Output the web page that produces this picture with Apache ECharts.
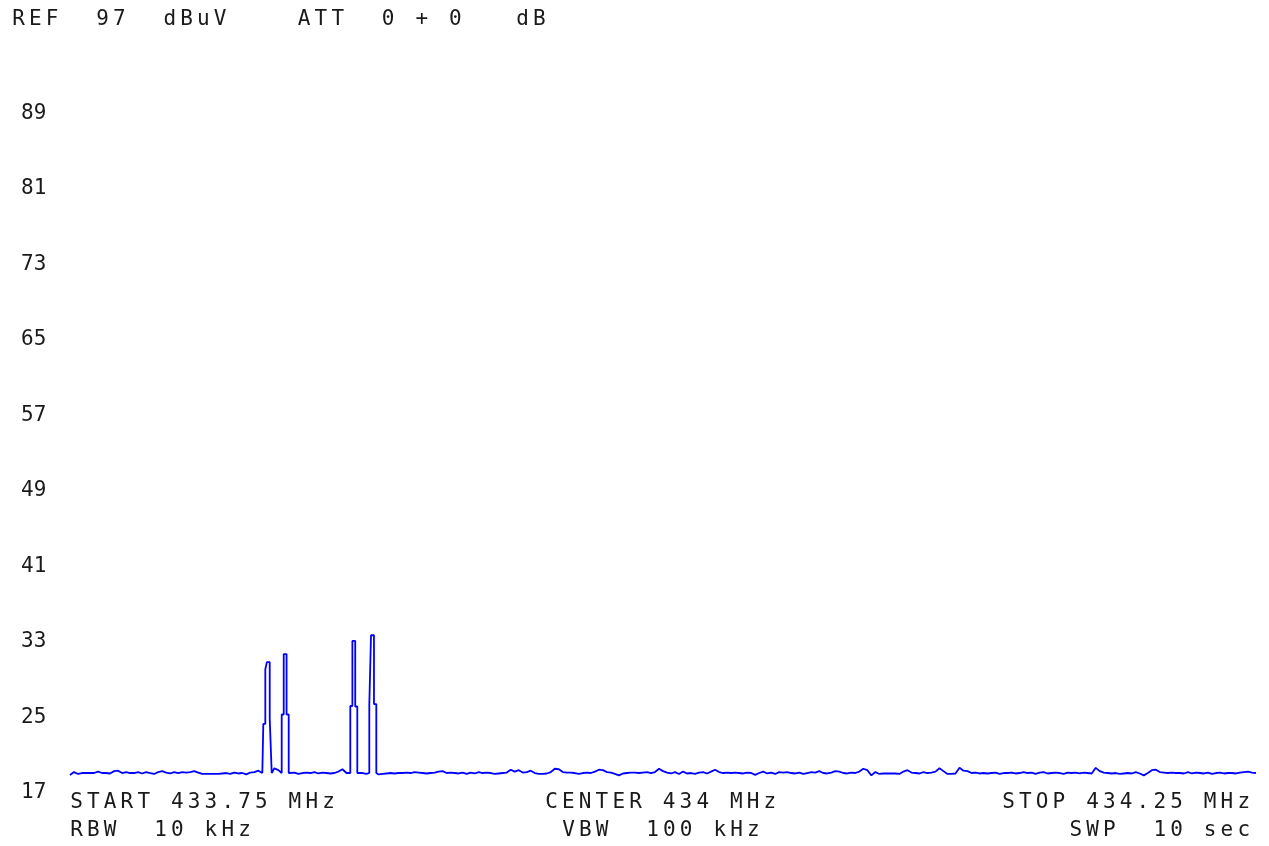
<!DOCTYPE html>
<html>
<head>
<meta charset="utf-8">
<script src="https://cdn.jsdelivr.net/npm/echarts@6/dist/echarts.min.js"></script>
<style>
  html, body { margin: 0; padding: 0; background: #ffffff; }
  #chart { width: 1269px; height: 846px; }
</style>
</head>
<body>
<div id="chart"></div>
<script>
// ---------------- DATA ----------------
const START_MHZ = 433.75;
const STOP_MHZ = 434.25;
const REF_DBUV = 97;
const BOTTOM_DBUV = 17;
const DIV_DB = 8;

// noise floor trace, evenly spaced sweep points from START to STOP (dBuV)
const noiseLevels = [
  18.6, 18.9, 18.7, 18.8, 18.8, 18.8, 18.8, 18.95, 18.8, 18.8,
  18.75, 19.0, 19.05, 18.8, 18.9, 18.8, 18.8, 18.9, 18.75, 18.9,
  18.8, 18.7, 18.9, 19.0, 18.85, 18.75, 18.9, 18.8, 18.9, 18.85,
  18.9, 19.0, 18.85, 18.7, 18.7, 18.7, 18.7, 18.7, 18.75, 18.8,
  18.7, 18.85, 18.75, 18.8, 18.65, 18.85, 18.9, 19.05, 18.8, 18.8,
  18.8, 19.3, 19.1, 18.8, 18.8, 18.8, 18.85, 18.7, 18.8, 18.85,
  18.8, 18.9, 18.75, 18.85, 18.8, 18.75, 18.8, 18.95, 19.2, 18.8,
  18.8, 18.8, 18.75, 18.8, 18.7, 18.8, 18.8, 18.65, 18.7, 18.75,
  18.8, 18.75, 18.8, 18.8, 18.85, 18.8, 18.9, 18.85, 18.8, 18.75,
  18.8, 18.85, 18.95, 19.0, 18.8, 18.85, 18.8, 18.75, 18.85, 18.7,
  18.85, 18.75, 18.9, 18.8, 18.85, 18.8, 18.7, 18.75, 18.8, 18.85,
  19.15, 18.95, 19.1, 18.85, 18.9, 19.05, 18.8, 18.7, 18.7, 18.75,
  18.9, 19.25, 19.2, 18.9, 18.85, 18.85, 18.8, 18.7, 18.8, 18.85,
  18.8, 18.95, 19.15, 19.1, 18.9, 18.85, 18.7, 18.55, 18.75, 18.8,
  18.85, 18.85, 18.8, 18.85, 18.9, 18.8, 18.9, 19.25, 19.0, 18.85,
  18.75, 18.9, 18.7, 18.95, 18.75, 18.8, 18.7, 18.85, 18.9, 18.75,
  18.95, 19.15, 18.9, 18.8, 18.85, 18.8, 18.85, 18.8, 18.75, 18.85,
  18.8, 18.6, 18.8, 18.95, 18.75, 18.85, 18.7, 18.9, 18.85, 18.9,
  18.8, 18.75, 18.85, 18.7, 18.8, 18.9, 18.85, 19.0, 18.8, 18.75,
  18.85, 19.0, 18.95, 18.8, 18.75, 18.85, 18.8, 18.95, 19.25, 19.1,
  18.55, 18.9, 18.7, 18.75, 18.75, 18.75, 18.75, 18.7, 18.95, 19.1,
  18.85, 18.8, 18.75, 18.9, 18.8, 18.85, 18.95, 19.3, 19.0, 18.7,
  18.7, 18.75, 19.35, 19.05, 19.0, 18.8, 18.85, 18.75, 18.8, 18.75,
  18.8, 18.85, 18.7, 18.8, 18.8, 18.85, 18.75, 18.8, 18.9, 18.8,
  18.85, 18.7, 18.85, 18.9, 18.75, 18.8, 18.85, 18.8, 18.7, 18.85,
  18.8, 18.85, 18.75, 18.85, 18.8, 18.75, 19.35, 19.0, 18.85, 18.8,
  18.75, 18.8, 18.7, 18.75, 18.8, 18.75, 18.9, 18.75, 18.55, 18.8,
  19.1, 19.15, 18.9, 18.85, 18.8, 18.85, 18.8, 18.8, 18.75, 18.9,
  18.75, 18.85, 18.8, 18.75, 18.85, 18.7, 18.8, 18.85, 18.75, 18.8,
  18.8, 18.75, 18.85, 18.9, 18.95, 18.85, 18.8
];

// four carrier spikes: frequency (MHz) and level (dBuV) of their outline
const peakAFreq  = [433.83149, 433.83149, 433.83234, 433.83234, 433.83300, 433.83300, 433.83420, 433.83420, 433.83503, 433.83503];
const peakALevel = [18.8, 24.0, 24.0, 29.8, 29.8, 30.55, 30.55, 24.6, 24.6, 18.8];
const peakBFreq  = [433.83925, 433.83925, 433.84010, 433.84010, 433.84130, 433.84130, 433.84220, 433.84220];
const peakBLevel = [18.8, 25.0, 25.0, 31.4, 31.4, 25.0, 25.0, 18.8];
const peakCFreq  = [433.86817, 433.86817, 433.86905, 433.86905, 433.87025, 433.87025, 433.87112, 433.87112];
const peakCLevel = [18.8, 25.9, 25.9, 32.8, 32.8, 25.85, 25.85, 18.8];
const peakDFreq  = [433.87618, 433.87618, 433.87690, 433.87690, 433.87815, 433.87815, 433.87913, 433.87913];
const peakDLevel = [18.8, 25.97, 25.97, 33.4, 33.4, 26.1, 26.1, 18.8];

// annotation texts
const headerText = 'REF  97  dBuV    ATT  0 + 0   dB';
const startText  = 'START 433.75 MHz';
const rbwText    = 'RBW  10 kHz';
const centerText = 'CENTER 434 MHz';
const vbwText    = 'VBW  100 kHz';
const stopText   = 'STOP 434.25 MHz';
const swpText    = 'SWP  10 sec';

// ---------------- BUILD TRACE ----------------
const peaks = [[peakAFreq, peakALevel], [peakBFreq, peakBLevel], [peakCFreq, peakCLevel], [peakDFreq, peakDLevel]];
const step = (STOP_MHZ - START_MHZ) / (noiseLevels.length - 1);
const trace = [];
let p = 0;
noiseLevels.forEach((v, i) => {
  const f = START_MHZ + i * step;
  while (p < peaks.length && f >= peaks[p][0][0]) {
    peaks[p][0].forEach((pf, j) => trace.push([pf, peaks[p][1][j]]));
    p++;
  }
  const inside = peaks.some(([fr]) => f >= fr[0] && f <= fr[fr.length - 1]);
  if (!inside) trace.push([f, v]);
});

// ---------------- TEXT LAYOUT ----------------
const FONT = '"DejaVu Sans Mono", "Liberation Mono", monospace';
const PITCH = 16.8;
const TEXT_COLOR = '#1a1a1a';
const graphics = [];
function monoText(str, x0, yc) {
  for (let i = 0; i < str.length; i++) {
    const ch = str[i];
    if (ch === ' ') continue;
    graphics.push({
      type: 'text',
      x: x0 + i * PITCH + 6.5,
      y: yc,
      silent: true,
      style: {
        text: ch,
        fill: TEXT_COLOR,
        font: '21px ' + FONT,
        align: 'center',
        verticalAlign: 'middle',
        textAlign: 'center',
        textVerticalAlign: 'middle'
      }
    });
  }
}
monoText(headerText, 12, 20);
monoText(startText, 70, 803);
monoText(rbwText, 70, 831);
monoText(centerText, 545, 803);
monoText(vbwText, 562, 831);
monoText(stopText, 1002, 803);
monoText(swpText, 1002 + (stopText.length - swpText.length) * PITCH, 831);

// ---------------- CHART ----------------
const chart = echarts.init(document.getElementById('chart'), null, { renderer: 'canvas' });
chart.setOption({
  backgroundColor: '#ffffff',
  animation: false,
  grid: { left: 70, right: 13, top: 35, bottom: 56 },
  xAxis: {
    type: 'value',
    min: START_MHZ,
    max: STOP_MHZ,
    show: false
  },
  yAxis: {
    type: 'value',
    min: BOTTOM_DBUV,
    max: REF_DBUV,
    interval: DIV_DB,
    axisLine: { show: false },
    axisTick: { show: false },
    splitLine: { show: false },
    axisLabel: {
      show: true,
      showMinLabel: true,
      showMaxLabel: true,
      align: 'left',
      margin: 49,
      fontFamily: FONT,
      fontSize: 21,
      color: TEXT_COLOR,
      formatter: v => (v === REF_DBUV ? '' : '{v|' + v + '}'),
      rich: {
        v: { fontFamily: FONT, fontSize: 21, color: TEXT_COLOR, padding: [6, 0, 0, 0] }
      }
    }
  },
  series: [{
    type: 'line',
    data: trace,
    symbol: 'none',
    smooth: false,
    lineStyle: { color: '#0000ff', width: 1.8 },
    clip: false
  }],
  graphic: graphics
});
</script>
</body>
</html>
